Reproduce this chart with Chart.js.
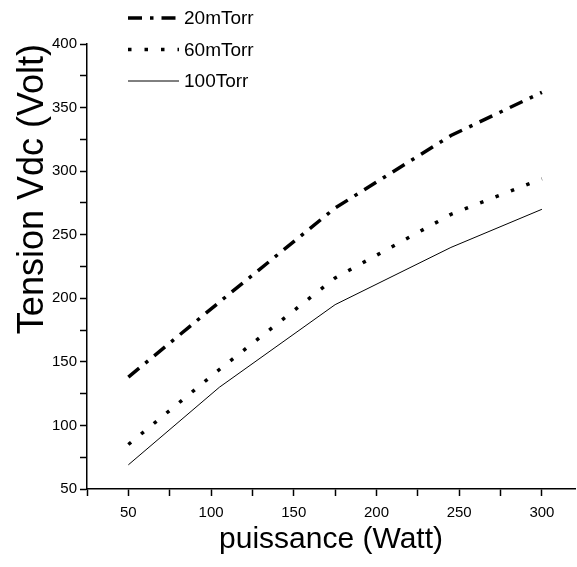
<!DOCTYPE html>
<html>
  <head>
    <title>Tension Vdc vs puissance</title>
    <script src="https://cdn.jsdelivr.net/npm/chart.js"></script>
    <style>
      body { margin: 0; background: #fff; }
      .chart-container { width: 577px; height: 567px; }
    </style>
  </head>
  <body>
    <div class="chart-container">
      <canvas id="myChart" width="577" height="567"></canvas>
    </div>

    <script>
      // valeurs
      const puissance = [50, 105, 175, 245, 300];
      const tension20mTorr = [138, 197, 271, 328, 362];
      const tension60mTorr = [85, 144, 216, 266, 294];
      const tension100Torr = [69, 130, 195, 240, 270];
      const etiquettes = ["20mTorr", "60mTorr", "100Torr"];

      const pts = (ys) => puissance.map((x, i) => ({ x: x, y: ys[i] }));

      // legende en colonne, comme dans Origin
      const legendePlugin = {
        id: "legende",
        afterDraw(chart) {
          const ctx = chart.ctx;
          ctx.save();
          chart.data.datasets.forEach((ds, i) => {
            const y = 18 + i * 31.5;
            ctx.strokeStyle = ds.borderColor;
            ctx.lineWidth = ds.borderWidth;
            ctx.setLineDash(ds.borderDash || []);
            ctx.beginPath();
            ctx.moveTo(128, y);
            ctx.lineTo(179, y);
            ctx.stroke();
            ctx.setLineDash([]);
            ctx.fillStyle = "#000";
            ctx.font = "19px 'Liberation Sans', Arial, sans-serif";
            ctx.textBaseline = "middle";
            ctx.fillText(ds.label, 184, y + 1);
          });
          ctx.restore();
        },
      };

      const chartData = {
        datasets: [
          {
            label: etiquettes[0],
            data: pts(tension20mTorr),
            borderColor: "#000",
            borderWidth: 3.5,
            borderDash: [14, 8, 3.5, 8],
          },
          {
            label: etiquettes[1],
            data: pts(tension60mTorr),
            borderColor: "#000",
            borderWidth: 3.5,
            borderDash: [3.5, 13],
          },
          {
            label: etiquettes[2],
            data: pts(tension100Torr),
            borderColor: "#000",
            borderWidth: 1,
          },
        ],
      };

      const police = "'Liberation Sans', Arial, sans-serif";

      const chartOptions = {
        responsive: false,
        animation: false,
        layout: { padding: { top: 44, right: 2, left: 0, bottom: 0 } },
        elements: { point: { radius: 0 }, line: { tension: 0, fill: false } },
        plugins: { legend: { display: false }, tooltip: { enabled: false } },
        scales: {
          x: {
            type: "linear",
            min: 25,
            max: 320,
            afterFit: (s) => { s.height = 78; },
            border: { color: "#000", width: 1.5 },
            grid: { drawOnChartArea: false, color: "#000", tickLength: 7, tickWidth: 1.5 },
            ticks: {
              stepSize: 25,
              includeBounds: false,
              maxRotation: 0,
              autoSkip: false,
              padding: 8,
              color: "#000",
              font: { family: police, size: 15 },
              callback: (v) => (v % 50 === 0 ? v : ""),
            },
            title: {
              display: true,
              text: "puissance (Watt)",
              color: "#000",
              font: { family: police, size: 30 },
              padding: { bottom: 9 },
            },
          },
          y: {
            min: 50,
            max: 400,
            afterFit: (s) => { s.width = 87; },
            border: { color: "#000", width: 1.5 },
            grid: { drawOnChartArea: false, color: "#000", tickLength: 7, tickWidth: 1.5 },
            ticks: {
              stepSize: 25,
              autoSkip: false,
              padding: 3,
              color: "#000",
              font: { family: police, size: 15 },
              callback: (v) => (v % 50 === 0 ? v : ""),
            },
            title: {
              display: true,
              text: "Tension Vdc (Volt)",
              align: "end",
              color: "#000",
              font: { family: police, size: 36 },
              padding: { top: 11 },
            },
          },
        },
      };

      const myChart = new Chart(document.getElementById("myChart"), {
        type: "line",
        data: chartData,
        options: chartOptions,
        plugins: [legendePlugin],
      });
    </script>
  </body>
</html>
